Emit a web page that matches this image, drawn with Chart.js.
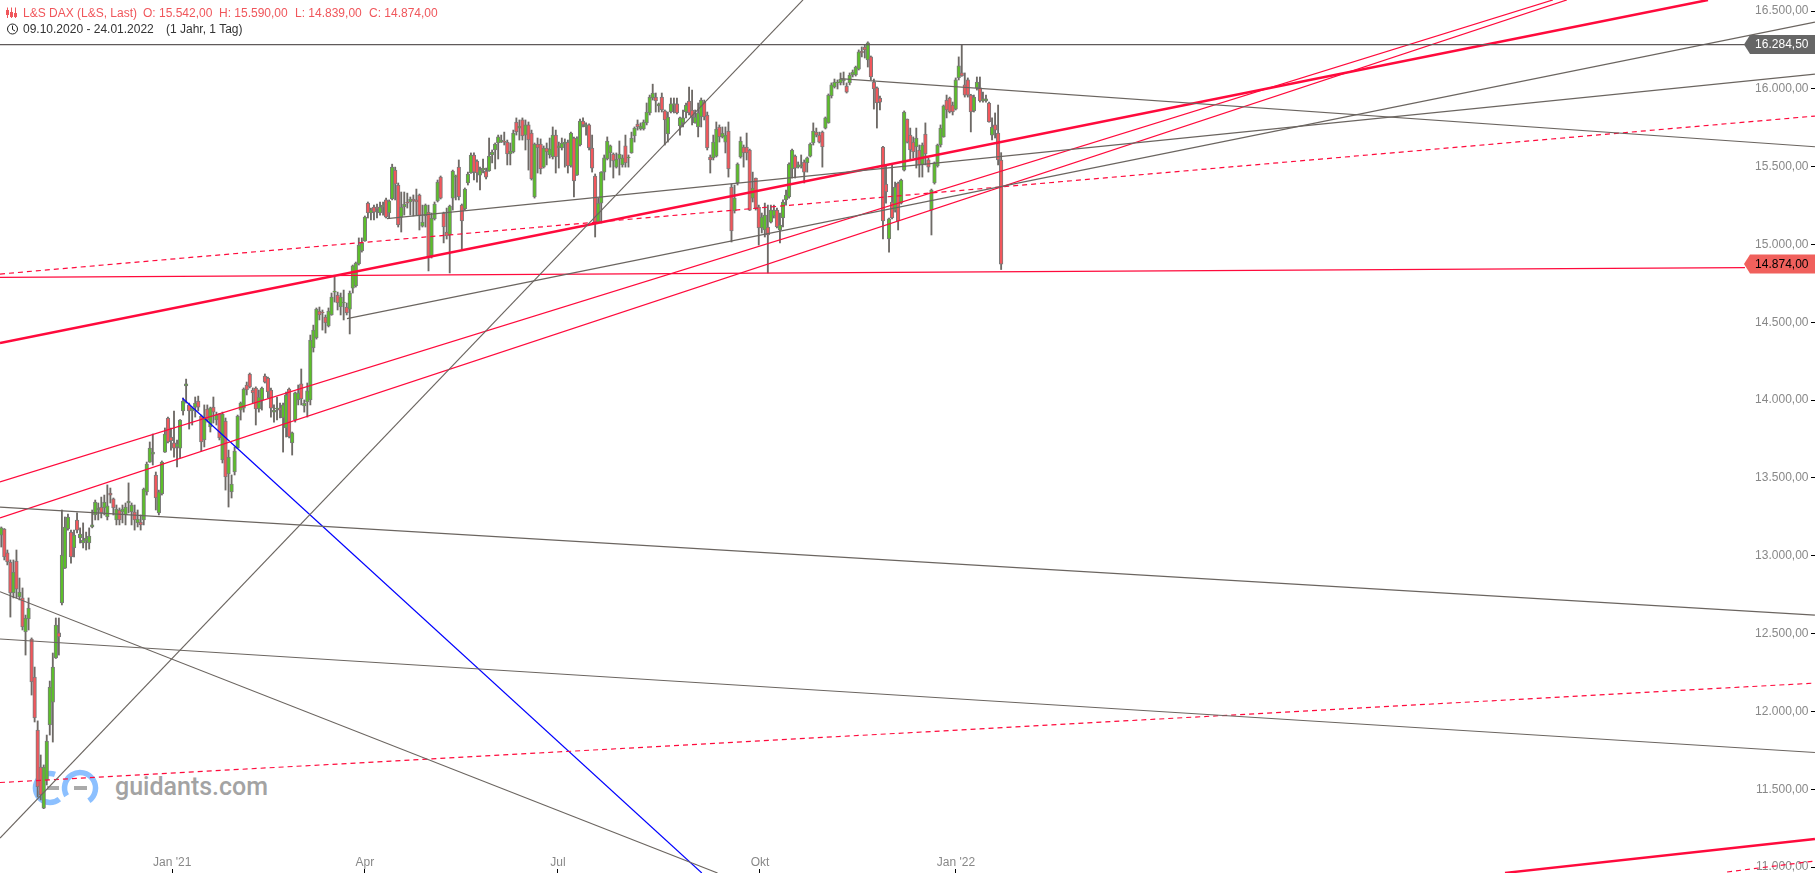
<!DOCTYPE html>
<html>
<head>
<meta charset="utf-8">
<title>L&amp;S DAX</title>
<script src="https://cdn.jsdelivr.net/npm/chart.js@4/dist/chart.umd.min.js"></script>
<style>
    html, body { margin: 0; padding: 0; background: #fff; overflow: hidden; }
    #wrap { position: relative; width: 1815px; height: 873px; font: 12px "Liberation Sans", Arial, sans-serif; }
    #chart { position: absolute; left: 0; top: 0; z-index: 2; }
    .t { position: absolute; white-space: pre; line-height: 14px; z-index: 3; }
    .red { color: #f0565b; top: 6px; }
    .dark { color: #333; top: 22px; }
    #logo, #mark { position: absolute; }
    #logo { left: 30px; top: 765px; z-index: 1; }
    #mark { left: 115px; top: 772px; z-index: 1; font: 500 25px Roboto, sans-serif; color: #a3a3a3; line-height: 30px; }
    .icon { position: absolute; z-index: 3; }
</style>
</head>
<body>
<div id="wrap">
    <svg id="logo" width="80" height="50" fill="none">
        <path d="M25 9.4 A14.5 14.5 0 1 0 29.3 34.1" stroke="#8cc0ff" stroke-width="5.5"/>
        <path d="M36.6 30.75 A15.5 15.5 0 1 1 58.9 35.7" stroke="#8cc0ff" stroke-width="5.5"/>
        <rect x="17" y="21" width="12" height="4" fill="#aaa"/>
        <rect x="44" y="21" width="13" height="4" fill="#aaa"/>
    </svg>
    <div id="mark">guidants.com</div>
    <canvas id="chart" width="1815" height="873"></canvas>
    <svg class="icon" style="left:5px;top:7px" width="13" height="12" stroke="#f0565b" fill="none">
        <path d="M2.5 0.5V11M6.5 0.5V11M10.5 0.5V11"/>
        <rect x="1.5" y="3.5" width="2" height="4"/><rect x="5.5" y="5.5" width="2" height="4"/><rect x="9.5" y="6.5" width="2" height="3"/>
    </svg>
    <svg class="icon" style="left:6px;top:23px" width="13" height="12" stroke="#222" fill="none">
        <circle cx="6.5" cy="6" r="5"/><path d="M6.5 2.5V6.5L9 8"/>
    </svg>
    <span class="t red" style="left:23px">L&amp;S DAX (L&amp;S, Last)</span>
    <span class="t red" style="left:143px">O: 15.542,00</span>
    <span class="t red" style="left:219px">H: 15.590,00</span>
    <span class="t red" style="left:295px">L: 14.839,00</span>
    <span class="t red" style="left:369px">C: 14.874,00</span>
    <span class="t dark" style="left:23px">09.10.2020 - 24.01.2022</span>
    <span class="t dark" style="left:166px">(1 Jahr, 1 Tag)</span>
</div>
<script>
// daily candles, 09.10.2020 - 24.01.2022
var opens = [
    13133,13172,13018,12960,12761,12966,12735,12729,12510,12594,
    12465,12221,11880,11642,11379,11559,11913,12060,12343,12504,
    12697,12921,13172,13152,13050,13230,13114,13082,13095,13082,
    13185,13262,13294,13313,13307,13249,13403,13365,13230,13294,
    13281,13262,13339,13281,13281,13211,13217,13230,13410,13602,
    13653,13519,13275,13397,13666,13885,13763,13725,13699,13692,
    13930,14091,13969,13930,13955,13994,13898,13744,13943,13827,
    13955,13872,13911,13615,13865,13525,13410,13538,13692,13936,
    13949,14097,14168,14065,14078,13943,14001,14155,14142,14065,
    13923,13943,13949,13885,13821,14071,13725,13872,14001,14104,
    13962,13988,14001,14335,14399,14572,14566,14534,14476,14547,
    14694,14675,14598,14624,14598,14585,14720,14733,14875,14958,
    15022,15266,15202,15241,15241,15202,15241,15286,15202,15292,
    15478,15382,15176,15241,15273,15273,15292,15286,15318,15118,
    15183,15208,14926,15164,15279,15433,15202,15080,15061,15298,
    15433,15497,15253,15228,15395,15459,15575,15536,15446,15478,
    15472,15472,15575,15607,15652,15658,15665,15658,15581,15594,
    15787,15748,15800,15703,15768,15716,15305,15645,15645,15497,
    15620,15575,15562,15703,15620,15620,15645,15658,15504,15684,
    15446,15639,15793,15755,15768,15620,15440,15144,15266,15465,
    15549,15588,15581,15497,15549,15511,15633,15556,15588,15697,
    15774,15742,15742,15781,15845,15941,15947,15890,15947,15858,
    15710,15851,15896,15903,15761,15781,15851,15922,15864,15781,
    15755,15819,15915,15832,15562,15556,15568,15755,15691,15658,
    15729,15369,15215,15395,15562,15626,15626,15607,15298,15427,
    15241,15106,15093,15112,15144,15183,15221,15093,15170,15286,
    15305,15485,15568,15497,15504,15530,15524,15568,15652,15722,
    15703,15722,15748,15781,15954,16012,16038,16038,16050,16018,
    16038,16089,16089,16127,16243,16269,16185,16205,16044,16006,
    15941,15626,15388,15035,15273,15221,15395,15266,15478,15806,
    15703,15658,15626,15607,15511,15710,15543,15221,15395,15504,
    15639,15691,15928,15941,15896,15870,16070,16102,16025,16057,
    15960,15858,16006,16006,15922,15922,15909,15703,15768,15716,
    15542
];
var highs = [
    13185,13175,13037,12973,12973,13037,12857,12793,12619,12729,
    12472,12285,11939,11720,11656,11848,12195,12375,12600,12600,
    13294,13249,13268,13165,13165,13275,13179,13211,13152,13179,
    13294,13358,13339,13377,13390,13455,13435,13371,13326,13307,
    13326,13339,13468,13339,13326,13294,13262,13435,13602,13731,
    13782,13538,13422,13609,13821,13891,13821,13930,13744,13875,
    14014,14135,13981,13955,14020,14026,13904,13969,13969,13955,
    14020,13923,13915,13923,13885,13679,13519,13699,13904,13988,
    14078,14116,14174,14078,14085,14065,14084,14168,14148,14078,
    13969,14020,13981,13981,14052,14078,13795,14052,14097,14200,
    14001,14110,14418,14482,14592,14598,14579,14547,14592,14688,
    14791,14694,14688,14707,14624,14701,14868,14887,15042,15042,
    15183,15273,15234,15253,15260,15273,15273,15298,15286,15516,
    15497,15395,15337,15337,15330,15305,15318,15356,15324,15253,
    15260,15253,15202,15273,15414,15440,15208,15234,15253,15478,
    15446,15543,15260,15363,15465,15588,15588,15543,15497,15549,
    15491,15684,15607,15652,15703,15703,15722,15671,15652,15735,
    15813,15800,15813,15800,15787,15735,15652,15684,15678,15633,
    15652,15684,15755,15735,15658,15684,15678,15671,15722,15690,
    15691,15806,15813,15781,15775,15703,15453,15298,15468,15575,
    15691,15639,15588,15588,15665,15575,15703,15575,15722,15755,
    15800,15781,15800,15909,15960,16030,15973,15909,15973,15864,
    15851,15941,15941,15941,15819,15864,15909,16012,15992,15864,
    15909,15941,15928,15851,15575,15703,15787,15768,15755,15755,
    15787,15388,15382,15524,15691,15639,15716,15613,15465,15427,
    15253,15202,15266,15253,15253,15253,15234,15202,15286,15350,
    15524,15613,15575,15530,15575,15543,15562,15652,15781,15748,
    15722,15729,15819,15967,16038,16063,16057,16102,16108,16038,
    16102,16121,16146,16250,16269,16282,16302,16211,16063,16012,
    15954,15630,15511,15170,15511,15401,15401,15420,15858,15806,
    15748,15691,15748,15639,15652,15781,15556,15356,15530,15645,
    15768,15896,15960,15947,15915,16070,16205,16282,16102,16070,
    15965,15960,16076,16076,15979,15960,15915,15813,15845,15896,
    15590
];
var lows = [
    13056,12973,12941,12606,12729,12729,12716,12523,12362,12523,
    12105,11932,11450,11431,11375,11527,11848,11803,12340,12362,
    12684,12918,13165,12953,12992,13146,13082,13050,13037,13043,
    13179,13230,13230,13243,13262,13230,13339,13262,13198,13198,
    13211,13198,13275,13198,13165,13185,13165,13198,13390,13600,
    13583,13294,13262,13390,13664,13725,13679,13634,13570,13628,
    13904,13981,13814,13840,13891,13930,13673,13699,13859,13795,
    13853,13840,13744,13596,13422,13313,13371,13519,13690,13872,
    13923,14033,14078,13981,13840,13923,13936,14110,14014,13891,
    13859,13872,13885,13666,13763,13757,13647,13859,13969,13969,
    13923,13891,13969,14309,14392,14515,14450,14431,14470,14545,
    14630,14579,14547,14515,14547,14425,14688,14726,14868,14951,
    15020,15170,15157,15157,15170,15189,15189,15170,15170,15286,
    15286,15112,15080,15189,15234,15189,15183,15189,15093,15112,
    15112,14830,14913,15157,15273,15292,15010,15035,14817,15221,
    15286,15286,14971,15221,15382,15457,15414,15401,15350,15459,
    15421,15470,15524,15485,15549,15655,15639,15511,15511,15588,
    15703,15671,15671,15607,15478,15414,15298,15459,15453,15491,
    15511,15555,15549,15459,15491,15607,15497,15459,15497,15305,
    15444,15633,15755,15703,15607,15465,15048,15138,15138,15414,
    15543,15497,15427,15491,15446,15497,15497,15497,15586,15658,
    15735,15735,15735,15768,15832,15928,15851,15851,15851,15639,
    15658,15845,15845,15838,15703,15755,15813,15832,15768,15779,
    15691,15755,15800,15607,15459,15543,15562,15658,15684,15588,
    15433,15016,15202,15382,15555,15497,15543,15218,15273,15221,
    14996,15074,15048,14817,15138,15170,15106,15010,15112,15253,
    15298,15427,15427,15491,15491,15395,15465,15562,15639,15691,
    15652,15497,15742,15779,15941,16005,15999,16025,16025,15973,
    16025,16076,16082,16121,16205,16198,16140,16057,15870,15748,
    15864,15035,15266,14951,15164,15208,15093,15260,15472,15652,
    15543,15555,15491,15433,15433,15511,15465,15061,15388,15497,
    15626,15689,15813,15845,15832,15864,16057,16080,15947,15947,
    15723,15851,15992,15915,15915,15915,15785,15671,15684,15511,
    14839
];
var closes = [
    13179,12992,12960,12761,12895,12786,12767,12542,12600,12664,
    12189,11958,11514,11463,11642,11810,12157,12285,12555,12478,
    13005,13185,13249,12992,13133,13165,13139,13101,13114,13127,
    13198,13345,13307,13275,13345,13320,13390,13307,13300,13230,
    13300,13313,13352,13326,13230,13236,13198,13429,13589,13692,
    13666,13371,13410,13602,13782,13731,13737,13692,13718,13872,
    13994,14104,13930,13949,13981,13955,13731,13891,13872,13949,
    13923,13904,13757,13911,13506,13634,13461,13673,13898,13981,
    14071,14065,14084,14046,13943,14020,14078,14116,14052,13949,
    13936,13949,13936,13969,14033,13763,13789,14046,14046,14007,
    13981,14059,14386,14450,14585,14547,14560,14496,14572,14662,
    14701,14624,14662,14630,14560,14688,14862,14881,14996,15009,
    15176,15202,15221,15208,15228,15241,15253,15176,15279,15497,
    15388,15125,15241,15260,15266,15292,15279,15273,15183,15144,
    15253,14913,15170,15260,15401,15298,15112,15055,15247,15472,
    15440,15305,15151,15356,15453,15575,15465,15459,15478,15491,
    15433,15568,15594,15645,15691,15671,15658,15581,15600,15716,
    15723,15761,15697,15768,15671,15421,15645,15620,15485,15620,
    15594,15613,15703,15562,15633,15652,15658,15504,15716,15408,
    15684,15793,15768,15768,15620,15491,15144,15266,15465,15556,
    15665,15633,15536,15549,15581,15556,15524,15562,15684,15748,
    15755,15761,15787,15851,15947,15973,15922,15903,15864,15800,
    15819,15903,15903,15845,15813,15813,15896,15845,15819,15819,
    15845,15928,15819,15620,15543,15658,15742,15691,15716,15703,
    15485,15087,15298,15517,15665,15588,15588,15221,15363,15234,
    15106,15176,15189,15061,15221,15221,15112,15125,15273,15318,
    15517,15607,15491,15511,15511,15465,15556,15645,15729,15703,
    15658,15626,15813,15960,16025,16044,16044,16063,16063,15979,
    16089,16108,16140,16237,16230,16250,16295,16076,15999,15909,
    15915,15151,15337,15164,15170,15369,15151,15414,15851,15658,
    15607,15594,15684,15511,15639,15581,15497,15350,15524,15639,
    15748,15890,15864,15851,15851,16057,16147,16083,15960,15960,
    15851,15947,16044,15922,15935,15935,15787,15755,15735,15543,
    14874
];

var xTickValues = [56.4, 120, 183.7, 250.4, 315.1];
var xTickLabels = ["Jan '21", 'Apr', 'Jul', 'Okt', "Jan '22"];
var yTickValues = [11000, 11500, 12000, 12500, 13000, 13500, 14000, 14500, 15000, 15500, 16000, 16500];
var yTickLabels = ['11.000,00', '11.500,00', '12.000,00', '12.500,00', '13.000,00', '13.500,00',
    '14.000,00', '14.500,00', '15.000,00', '15.500,00', '16.000,00', '16.500,00'];

// drawn trend lines as [x1, price1, x2, price2], x in candle numbers
var grayLevel = [-0.43, 16284.5, 577.1, 16284.5];
var grayLines = [
    [-0.43, 11186, 264.6, 16571],
    [-0.43, 13313, 598.6, 12619],
    [-0.43, 12465, 598.6, 11736],
    [-0.43, 12769, 236.4, 10962],
    [276.8, 16066, 598.6, 15628],
    [127.3, 15166, 598.6, 16095],
    [114.1, 14524, 598.6, 16429]
];
var thickRedLines = [
    [-0.43, 14367, 563.3, 16571],
    [496.3, 10962, 598.6, 11180]
];
var thinRedLines = [
    [-0.43, 13474, 512.1, 16571],
    [-0.43, 13243, 516.7, 16571],
    [-0.43, 14788, 575.5, 14851]
];
var dashedRedLines = [
    [-0.43, 14810, 598.6, 15825],
    [-0.43, 11543, 598.6, 12182],
    [569.6, 10968, 598.6, 11039]
];
var blueLine = [59.8, 14012, 231.2, 10962];

var priceTags = [
    { value: 16284.5, text: '16.284,50', fill: '#666666', color: '#ffffff' },
    { value: 14874, text: '14.874,00', fill: '#f0605c', color: '#000000' }
];

var candleGreen = '#5cbf2a';
var candleRed = '#f2575c';
var lineRed = '#ff0a3c';
var lineGray = '#6b6560';
var edgeClip = { left: 0, top: 0, right: 6, bottom: 6 };

var xs = opens.map(function (o, i) { return i; });
var bodyColors = opens.map(function (o, i) { return closes[i] >= o ? candleGreen : candleRed; });

function lineSet(pts, color, width, dash) {
    return {
        type: 'line',
        data: [{ x: pts[0], y: pts[1] }, { x: pts[2], y: pts[3] }],
        borderColor: color,
        borderWidth: width,
        borderDash: dash || [],
        pointRadius: 0,
        tension: 0,
        fill: false,
        clip: edgeClip,
        order: 1
    };
}

// the label overhang chart.js reserves would shrink the plot, the labels sit inside it here
function noOverhang(scale) {
    scale.paddingTop = 0;
    scale.paddingBottom = 0;
    scale.paddingLeft = 0;
    scale.paddingRight = 0;
}

var datasets = [];
datasets.push(lineSet(grayLevel, '#5f5a5a', 1.2));
grayLines.forEach(function (l) { datasets.push(lineSet(l, lineGray, 1.2)); });
dashedRedLines.forEach(function (l) { datasets.push(lineSet(l, lineRed, 1.2, [5, 4])); });
thinRedLines.forEach(function (l) { datasets.push(lineSet(l, lineRed, 1.2)); });
thickRedLines.forEach(function (l) { datasets.push(lineSet(l, lineRed, 2.4)); });
datasets.push(lineSet(blueLine, '#0000ff', 1.2));

// wicks and bodies are floating bars
datasets.push({
    label: 'bodies',
    data: xs.map(function (x) { return { x: x, y: [opens[x], closes[x]] }; }),
    backgroundColor: bodyColors,
    borderColor: '#7a7a7a',
    borderWidth: 1,
    borderSkipped: false,
    barThickness: 3.6,
    grouped: false,
    order: 2
});
datasets.push({
    label: 'wicks',
    data: xs.map(function (x) { return { x: x, y: [lows[x], highs[x]] }; }),
    backgroundColor: '#6e6a66',
    barThickness: 1.2,
    grouped: false,
    order: 3
});

var priceTagPlugin = {
    id: 'priceTags',
    afterDraw: function (chart) {
        var c = chart.ctx;
        var yScale = chart.scales.y;
        priceTags.forEach(function (tag) {
            var y = yScale.getPixelForValue(tag.value);
            c.save();
            c.fillStyle = tag.fill;
            c.beginPath();
            c.moveTo(1744, y);
            c.lineTo(1750, y - 9.5);
            c.lineTo(1815, y - 9.5);
            c.lineTo(1815, y + 9.5);
            c.lineTo(1750, y + 9.5);
            c.closePath();
            c.fill();
            c.fillStyle = tag.color;
            c.font = '12px "Liberation Sans", Arial, sans-serif';
            c.textAlign = 'right';
            c.textBaseline = 'middle';
            c.fillText(tag.text, 1808.5, y + 0.5);
            c.restore();
        });
    }
};

var ctx = document.getElementById('chart').getContext('2d');
var myChart = new Chart(ctx, {
    type: 'bar',
    data: { datasets: datasets },
    plugins: [priceTagPlugin],
    options: {
        responsive: false,
        animation: false,
        events: [],
        layout: { padding: 0 },
        plugins: {
            legend: { display: false },
            tooltip: { enabled: false }
        },
        scales: {
            x: {
                type: 'linear',
                position: 'bottom',
                offset: false,
                min: -0.43,
                max: 597.3,
                afterBuildTicks: function (scale) {
                    scale.ticks = xTickValues.map(function (v) { return { value: v }; });
                },
                afterFit: function (scale) { scale.height = 4; noOverhang(scale); },
                border: { display: false },
                grid: { drawOnChartArea: false, color: '#000', tickLength: 4, offset: false },
                ticks: {
                    autoSkip: false,
                    maxRotation: 0,
                    mirror: true,
                    padding: -0.5,
                    color: '#888888',
                    font: { family: '"Liberation Sans", Arial, sans-serif', size: 12 },
                    callback: function (v, i) { return xTickLabels[i]; }
                }
            },
            y: {
                type: 'linear',
                position: 'right',
                min: 10987.4,
                max: 16570.7,
                afterBuildTicks: function (scale) {
                    scale.ticks = yTickValues.map(function (v) { return { value: v }; });
                },
                afterFit: function (scale) { scale.width = 4; noOverhang(scale); },
                border: { display: false },
                grid: { drawOnChartArea: false, color: '#000', tickLength: 4 },
                ticks: {
                    mirror: true,
                    padding: -2.5,
                    color: '#888888',
                    font: { family: '"Liberation Sans", Arial, sans-serif', size: 12 },
                    callback: function (v, i) { return yTickLabels[i]; }
                }
            }
        }
    }
});
</script>
</body>
</html>
